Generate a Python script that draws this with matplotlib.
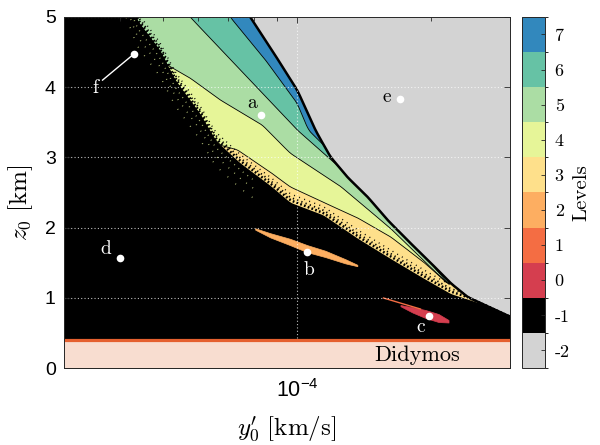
import numpy as np
import matplotlib
matplotlib.use("Agg")
import matplotlib.pyplot as plt
from matplotlib.colors import ListedColormap, BoundaryNorm
from matplotlib.cm import ScalarMappable
from matplotlib.ticker import FixedLocator, NullFormatter

plt.rcParams['mathtext.fontset'] = 'cm'

# ---------------- data ----------------
levels = [-2, -1, 0, 1, 2, 3, 4, 5, 6, 7]
level_colors = ['#d3d3d3', '#000000', '#d53e4f', '#f46d43', '#fdae61',
                '#fee08b', '#e6f598', '#abdda4', '#66c2a5', '#3288bd']

# boundary between band 7 and escape (-2) region
gray_x = [6.2e-5, 7.84e-5, 8.83e-5, 1.0e-4, 1.098e-4, 1.186e-4, 1.295e-4, 1.437e-4,
          1.593e-4, 1.767e-4, 1.99e-4, 2.207e-4, 2.41e-4, 3.0e-4]
gray_z = [6.0, 5.00, 4.50, 3.96, 3.39, 3.01, 2.72, 2.44, 2.11, 1.82, 1.50, 1.21, 1.01, 0.73]
# boundary between 6 and 7
l7_x = [6.0e-5, 7.07e-5, 8.48e-5, 1.0e-4, 1.059e-4, 1.174e-4, 1.295e-4]
l7_z = [6.0, 5.00, 4.39, 3.77, 3.39, 3.11, 2.72]
# boundary between 5 and 6
l6_x = [4.1e-5, 5.75e-5, 1.0e-4, 1.249e-4, 1.618e-4, 2.173e-4]
l6_z = [6.0, 5.00, 3.39, 2.85, 2.17, 1.21]
# boundary between 4 and 5
l5_x = [4.67e-5, 5.75e-5, 6.71e-5, 8.35e-5, 9.64e-5, 1.249e-4, 1.618e-4, 2.173e-4]
l5_z = [4.46, 4.13, 3.82, 3.46, 3.06, 2.59, 1.99, 1.20]
# boundary between 3 and 4
l4_x = [6.05e-5, 7.33e-5, 8.70e-5, 9.64e-5, 1.144e-4, 1.364e-4, 1.618e-4, 1.919e-4, 2.173e-4]
l4_z = [3.25, 3.11, 2.79, 2.58, 2.36, 2.14, 1.87, 1.51, 1.21]
# upper edge of the dense impact (-1) region
black_x = [4.0e-5, 4.37e-5, 4.92e-5, 5.32e-5, 6.05e-5, 6.54e-5, 7.45e-5, 8.70e-5,
           9.64e-5, 1.144e-4, 1.364e-4, 1.618e-4, 1.919e-4, 2.207e-4, 2.58e-4, 3.0e-4]
black_z = [5.6, 4.95, 4.52, 4.10, 3.62, 3.25, 2.92, 2.60, 2.36, 2.18, 1.85, 1.56,
           1.28, 1.06, 0.92, 0.83]

# island of level 2 (near b)
b_x = [8.05e-5, 8.70e-5, 9.64e-5, 1.053e-4, 1.156e-4, 1.282e-4, 1.364e-4]
b_top = [1.99, 1.92, 1.84, 1.75, 1.67, 1.55, 1.47]
b_bot = [1.97, 1.86, 1.75, 1.65, 1.58, 1.49, 1.45]
# island of level 0 (near c)
c_x = [1.704e-4, 1.814e-4, 1.940e-4, 2.074e-4, 2.184e-4]
c_top = [0.897, 0.865, 0.826, 0.769, 0.684]
c_bot = [0.880, 0.790, 0.712, 0.655, 0.648]
# thin level 1 filament
r_x = [1.561e-4, 1.89e-4]
r_z = [0.997, 0.84]
# extent of the level-4 speckles inside the impact region (upper left)
spk_xmax = 8.0e-5

didymos_z = 0.4

pt_names = ['a', 'b', 'c', 'd', 'e', 'f']
pt_x = [8.30e-5, 1.053e-4, 1.97e-4, 4.0e-5, 1.704e-4, 4.30e-5]
pt_z = [3.60, 1.65, 0.74, 1.57, 3.83, 4.47]
lab_x = [7.92e-5, 1.064e-4, 1.89e-4, 3.72e-5, 1.59e-4, 3.52e-5]
lab_z = [3.77, 1.40, 0.58, 1.70, 3.86, 3.99]
f_line_x = [3.66e-5, 4.30e-5]
f_line_z = [4.10, 4.47]

xlim = (3e-5, 3e-4)
ylim = (0, 5)

# ---------------- figure ----------------
fig = plt.figure(figsize=(6.0, 4.45), dpi=100)
ax = fig.add_axes([0.1067, 0.173, 0.7433, 0.789])
ax.set_xscale('log')
ax.set_xlim(*xlim)
ax.set_ylim(*ylim)
ax.set_facecolor(level_colors[0])

lx = np.linspace(np.log10(xlim[0]), np.log10(xlim[1]), 1500)
xs = 10 ** lx

def curve(xp, zp, win=21):
    raw = np.interp(lx, np.log10(xp), zp)
    pad = np.pad(raw, win, mode='edge')
    k = np.ones(win) / win
    return np.convolve(pad, k, mode='same')[win:-win]

zg = curve(gray_x, gray_z)
zb = np.minimum(curve(black_x, black_z), zg)
z7 = np.minimum(curve(l7_x, l7_z), zg)
z6 = np.minimum(curve(l6_x, l6_z), z7)
z5 = np.minimum(curve(l5_x, l5_z), z6)
z4 = np.minimum(curve(l4_x, l4_z), z5)
z4 = np.maximum(z4, zb)
z5 = np.maximum(z5, z4)
z6 = np.maximum(z6, z5)
z7 = np.maximum(z7, z6)

col = dict(zip(levels, level_colors))
ax.fill_between(xs, 0, zg, color=col[7], lw=0, zorder=1)
ax.fill_between(xs, 0, z7, color=col[6], lw=0, zorder=1)
ax.fill_between(xs, 0, z6, color=col[5], lw=0, zorder=1)
ax.fill_between(xs, 0, z5, color=col[4], lw=0, zorder=1)
ax.fill_between(xs, 0, z4, color=col[3], lw=0, zorder=1)
ax.fill_between(xs, 0, zb, color=col[-1], lw=0, zorder=1)
for zz in (z4, z5, z6, z7):
    ax.plot(xs, zz, color='k', lw=0.6, zorder=1.5)
ax.plot(xs, zg, color='k', lw=1.8, zorder=1.6)

# speckled (fractal) fringe of the impact region
fringe = [(0.03, 1.8, (0, (0.7, 0.9))), (0.07, 1.3, (0.4, (0.7, 1.8))),
          (0.12, 1.0, (1.0, (0.7, 3.2)))]
for off, lw, ls in fringe:
    ax.plot(xs, np.minimum(zb + off, zg), color='k', lw=lw, ls=ls, zorder=1.55)
# sparse level-4 speckles inside the upper-left impact region
m = xs < spk_xmax
for off, ls in [(0.10, (0, (0.6, 3.5))), (0.22, (1.2, (0.6, 5.0))), (0.36, (0.5, (0.6, 7.0)))]:
    ax.plot(xs[m], (zb - off)[m], color=col[4], lw=1.0, ls=ls, alpha=0.8, zorder=1.55)

ax.fill_between(b_x, b_bot, b_top, color=col[2], lw=0.5, edgecolor=col[2], zorder=1.7)
ax.fill_between(c_x, c_bot, c_top, color=col[0], lw=0.5, edgecolor=col[0], zorder=1.7)
ax.plot(r_x, r_z, color=col[1], lw=1.0, zorder=1.7)

# Didymos
ax.fill_between(xlim, 0, didymos_z, color='#f8ddd0', lw=0, zorder=3)
ax.axhline(didymos_z, color='#e5602f', lw=2.3, zorder=3.1)
ax.text(1.861e-4, 0.185, 'Didymos', family='cmr10', fontsize=16,
        ha='center', va='center', zorder=4)

# grid
ax.set_axisbelow(False)
ax.grid(True, which='major', color='white', ls=(0, (1, 2)), lw=0.8, alpha=0.75)

# points
ax.plot(pt_x, pt_z, 'o', color='white', ms=5.5, mec='none', zorder=5)
ax.plot(f_line_x, f_line_z, color='white', lw=1.0, zorder=5)
for n, x, z in zip(pt_names, lab_x, lab_z):
    ax.text(x, z, n, family='cmr10', fontsize=14,
            color='black' if n in 'ae' else 'white',
            ha='center', va='center', zorder=5)

# ticks
ax.set_yticks([0, 1, 2, 3, 4, 5])
ax.set_yticklabels(['0', '1', '2', '3', '4', '5'], family='Liberation Sans', fontsize=14)
ax.xaxis.set_major_locator(FixedLocator([1e-4]))
ax.xaxis.set_minor_locator(FixedLocator([4e-5, 5e-5, 6e-5, 7e-5, 8e-5, 9e-5, 2e-4, 3e-4]))
ax.xaxis.set_minor_formatter(NullFormatter())
ax.set_xticklabels([r'$\mathregular{10^{-4}}$'], family='Liberation Sans', fontsize=15.5)
ax.tick_params(which='both', direction='in', top=True, right=True, color='#262626', width=0.6)
ax.tick_params(which='major', length=4.5)
ax.tick_params(which='minor', length=3)
ax.tick_params(axis='y', pad=6)
ax.tick_params(axis='x', pad=8)
for s in ax.spines.values():
    s.set_color('#262626')
    s.set_linewidth(0.7)
    s.set_zorder(6)

ax.set_xlabel(r"$y_0'\ \mathrm{[km/s]}$", fontsize=18)
ax.set_ylabel(r"$z_0\ \mathrm{[km]}$", fontsize=18)
ax.xaxis.set_label_coords(0.5, -0.133)
ax.yaxis.set_label_coords(-0.065, 0.47)

# colorbar
cax = fig.add_axes([0.87, 0.173, 0.0383, 0.789])
cmap = ListedColormap(level_colors)
norm = BoundaryNorm(np.arange(-2.5, 8.0, 1.0), cmap.N)
cb = fig.colorbar(ScalarMappable(norm=norm, cmap=cmap), cax=cax, ticks=levels)
cb.set_ticklabels([str(v) for v in levels])
for t in cax.get_yticklabels():
    t.set_family('cmr10')
    t.set_fontsize(13)
cax.tick_params(direction='in', length=3, width=0.6, color='#262626', pad=7)
cb.outline.set_edgecolor('#262626')
cb.outline.set_linewidth(0.7)
cb.set_label('Levels', family='cmr10', fontsize=15, rotation=90, labelpad=2)

fig.savefig('out.png', dpi=100)
